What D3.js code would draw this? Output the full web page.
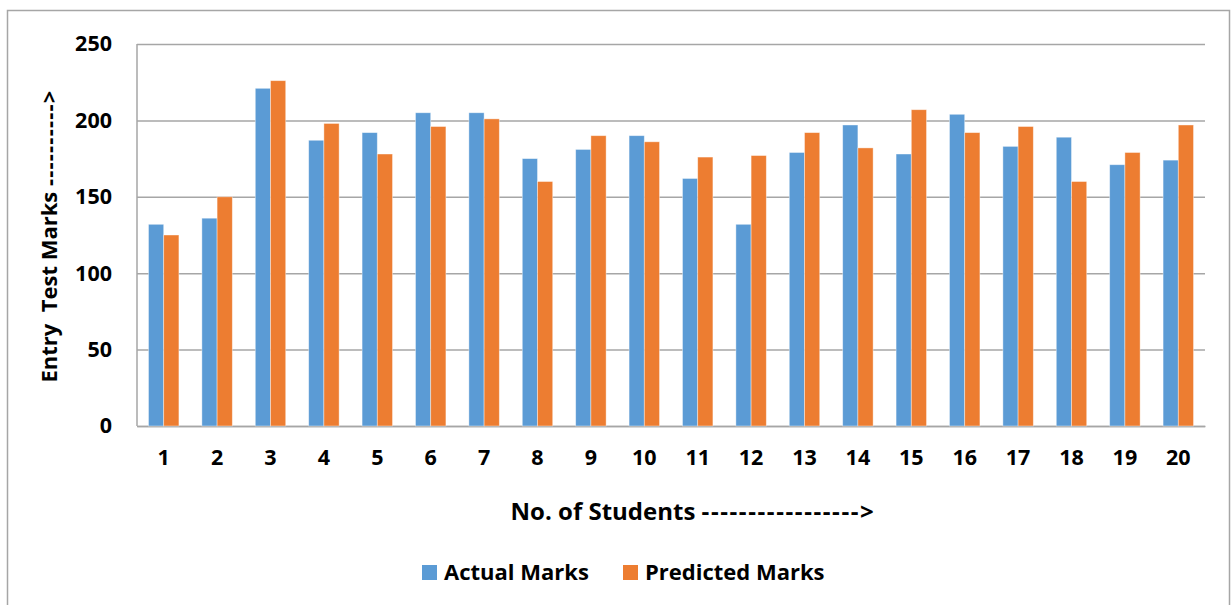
<!DOCTYPE html>
<html><head><meta charset="utf-8">
<script src="https://cdn.jsdelivr.net/npm/d3@7"></script>
<style>body{margin:0;background:#fff}svg{display:block}text{font-family:"Open Sans",Lato,sans-serif;font-weight:bold;fill:#000}</style>
</head><body><svg id="c" width="1231" height="605"></svg>
<script>
const categories = ["1","2","3","4","5","6","7","8","9","10","11","12","13","14","15","16","17","18","19","20"];
const actualMarks = [132,136,221,187,192,205,205,175,181,190,162,132,179,197,178,204,183,189,171,174];
const predictedMarks = [125,150,226,198,178,196,201,160,190,186,176,177,192,182,207,192,196,160,179,197];
const yTicks = [0,50,100,150,200,250];
const seriesNames = ["Actual Marks","Predicted Marks"];
const colors = ["#5B9BD5","#ED7D31"];

const svg = d3.select("#c");
svg.append("rect").attr("x",7.5).attr("y",10.5).attr("width",1222).attr("height",600)
  .attr("fill","none").attr("stroke","#a6a6a6").attr("stroke-width",1.5);

const L=137,R=1205,T=44,B=426;
const x = d3.scaleBand().domain(categories).range([L,R]).paddingInner(0.43).paddingOuter(0.215);
const xs = d3.scaleBand().domain(seriesNames).range([0,x.bandwidth()]);
const y = d3.scaleLinear().domain([0,250]).range([B,T]);

const yAxis = svg.append("g").attr("transform",`translate(${L},0)`)
  .call(d3.axisLeft(y).tickValues(yTicks).tickSize(-(R-L)).tickPadding(25));
yAxis.select(".domain").remove();
yAxis.selectAll("line").attr("stroke","#a6a6a6").attr("stroke-width",1.5);
yAxis.selectAll("text").style("font-size","21.5px").attr("font-family",null).attr("fill","#000");

svg.append("line").attr("x1",L).attr("x2",L).attr("y1",T).attr("y2",B).attr("stroke","#a6a6a6").attr("stroke-width",1.5);

const xAxis = svg.append("g").attr("transform",`translate(0,${B})`)
  .call(d3.axisBottom(x).tickSize(0).tickPadding(24));
xAxis.select(".domain").attr("stroke","#a6a6a6").attr("stroke-width",1.5);
xAxis.selectAll("text").style("font-size","21.5px").attr("font-family",null).attr("fill","#000");

const data = categories.map((c,i)=>({c, v:[actualMarks[i],predictedMarks[i]]}));
const g = svg.append("g");
data.forEach(d=>{
  d.v.forEach((v,j)=>{
    g.append("rect").attr("x",x(d.c)+xs(seriesNames[j])).attr("width",xs.bandwidth())
      .attr("y",y(v)).attr("height",y(0)-y(v)).attr("fill",colors[j])
      .attr("stroke","rgba(255,255,255,0.5)").attr("stroke-width",0.8);
  });
});

const xt = svg.append("text").attr("x",693).attr("y",520).attr("text-anchor","middle").style("font-size","24px").style("white-space","pre");
xt.append("tspan").text("No. of Students ");
xt.append("tspan").style("letter-spacing","1.6px").text("----------------->");

const yt = svg.append("text").attr("transform","translate(57,236) rotate(-90)").attr("text-anchor","middle").style("font-size","22px").style("white-space","pre");
yt.append("tspan").text("Entry  Test Marks ");
yt.append("tspan").style("letter-spacing","1.2px").text("---------->");

const leg = svg.append("g");
const legX=[422,623];
seriesNames.forEach((s,i)=>{
  leg.append("rect").attr("x",legX[i]).attr("y",565).attr("width",15).attr("height",15).attr("fill",colors[i]);
  leg.append("text").attr("x",legX[i]+22).attr("y",580).style("font-size","22px").text(s);
});
</script></body></html>
